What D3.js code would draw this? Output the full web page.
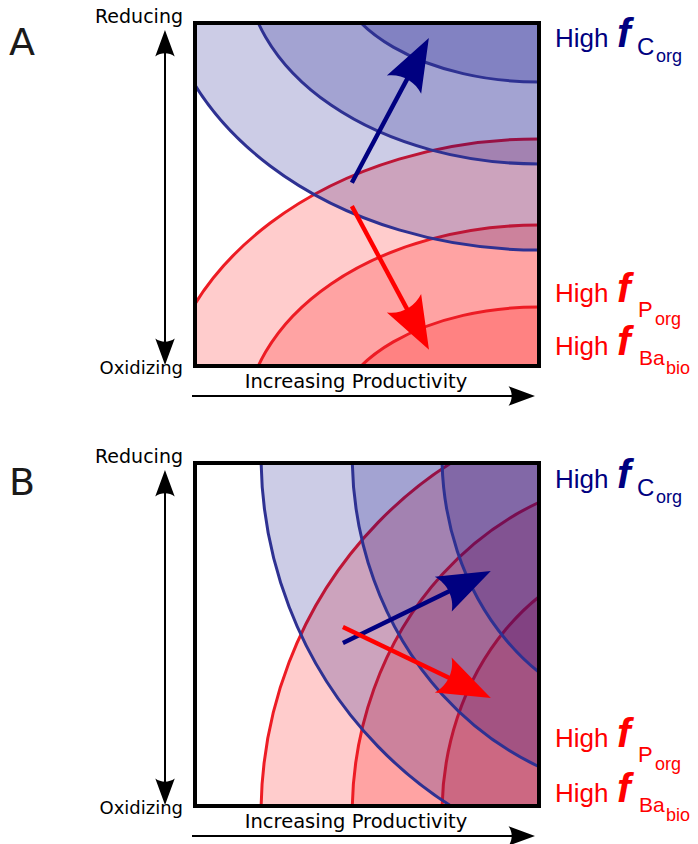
<!DOCTYPE html>
<html>
<head>
<meta charset="utf-8">
<script src="https://cdn.jsdelivr.net/npm/d3@7"></script>
<style>
  html, body { margin: 0; padding: 0; background: #fff; }
  svg { display: block; }
</style>
</head>
<body>
<svg id="chart" width="698" height="844"></svg>
<script>
// Conceptual redox / productivity space, normalised to 0..1 on both axes
// (x: productivity, y: 0 = oxidizing, 1 = reducing).

const panelNames = ["A", "B"];
const redoxLabels = ["Reducing", "Oxidizing"];
const productivityLabel = "Increasing Productivity";

// Centres and radii (outer → inner) of the f_Corg zones
const corgCentreA = [1.0, 1.175];
const corgRadiiA = [[1.105, 0.837], [0.855, 0.586], [0.599, 0.347]];
const corgCentreB = [1.352, 1.023];
const corgRadiiB = [[1.160, 1.201], [0.895, 0.988], [0.634, 0.761]];

// Centres and radii (outer → inner) of the f_Porg / f_Babio zones
const porgCentreA = [1.0, -0.175];
const porgRadiiA = [[1.105, 0.837], [0.855, 0.586], [0.599, 0.347]];
const porgCentreB = [1.352, -0.023];
const porgRadiiB = [[1.160, 1.201], [0.895, 0.988], [0.634, 0.761]];

// Trend arrows: [x0, y0, xTip, yTip]
const corgArrowA = [0.456, 0.534, 0.680, 0.956];
const porgArrowA = [0.456, 0.466, 0.680, 0.047];
const corgArrowB = [0.430, 0.475, 0.860, 0.685];
const porgArrowB = [0.430, 0.522, 0.860, 0.315];

const panels = [
  { name: panelNames[0], top: 23, corgC: corgCentreA, corgR: corgRadiiA, porgC: porgCentreA, porgR: porgRadiiA,
    corgArrow: corgArrowA, porgArrow: porgArrowA, labelShift: [0, 0, 0] },
  { name: panelNames[1], top: 463, corgC: corgCentreB, corgR: corgRadiiB, porgC: porgCentreB, porgR: porgRadiiB,
    corgArrow: corgArrowB, porgArrow: porgArrowB, labelShift: [441, 445, 447] }
];

const BLUE = "#000080", BLUE_LINE = "#2e3192";
const RED = "#ff0000", RED_LINE = "#ed1c24";

const svg = d3.select("#chart");
const defs = svg.append("defs");

// Inkscape-style "Arrow2" head, tip at origin pointing along +x, in stroke-width units
function headPath(s) {
  const p = (x, y) => [(-(x + 1) - 1.207) * s, -y * s];
  const b1 = p(8.7186, 4.0337), tip = p(-2.2073, 0.016), b2 = p(8.7186, -4.0017);
  const c1 = p(6.9731, -1.6296), c2 = p(6.9831, 1.6157);
  return `M${b1}L${tip}L${b2}C${c1} ${c2} ${b1}Z`;
}

function drawArrow(g, x0, y0, xt, yt, w, color) {
  const ang = Math.atan2(yt - y0, xt - x0);
  const s = 1.1 * w;
  const back = 6.5 * s;
  const ex = xt - back * Math.cos(ang), ey = yt - back * Math.sin(ang);
  g.append("line")
    .attr("x1", x0).attr("y1", y0).attr("x2", ex).attr("y2", ey)
    .attr("stroke", color).attr("stroke-width", w).attr("stroke-linecap", "butt");
  g.append("path")
    .attr("d", headPath(s))
    .attr("transform", `translate(${xt},${yt}) rotate(${ang * 180 / Math.PI})`)
    .attr("fill", color);
}

panels.forEach((pn, i) => {
  const left = 195, right = 539;
  const top = pn.top, bottom = pn.top + 343;
  const x = d3.scaleLinear().domain([0, 1]).range([left, right]);
  const y = d3.scaleLinear().domain([0, 1]).range([bottom, top]);
  const g = svg.append("g");

  const clipId = "clip" + pn.name;
  defs.append("clipPath").attr("id", clipId)
    .append("rect").attr("x", left).attr("y", top).attr("width", right - left).attr("height", bottom - top);

  const zones = g.append("g").attr("clip-path", `url(#${clipId})`);

  // productivity-driven zones first, redox-driven zones layered over them
  zones.selectAll("ellipse.porg").data(pn.porgR).join("ellipse")
    .attr("class", "porg")
    .attr("cx", x(pn.porgC[0])).attr("cy", y(pn.porgC[1]))
    .attr("rx", d => x(d[0]) - x(0)).attr("ry", d => y(0) - y(d[1]))
    .attr("fill", RED).attr("fill-opacity", 0.2)
    .attr("stroke", RED_LINE).attr("stroke-width", 3);

  zones.selectAll("ellipse.corg").data(pn.corgR).join("ellipse")
    .attr("class", "corg")
    .attr("cx", x(pn.corgC[0])).attr("cy", y(pn.corgC[1]))
    .attr("rx", d => x(d[0]) - x(0)).attr("ry", d => y(0) - y(d[1]))
    .attr("fill", BLUE).attr("fill-opacity", 0.2)
    .attr("stroke", BLUE_LINE).attr("stroke-width", 3);

  // trend arrows
  const ca = pn.corgArrow, pa = pn.porgArrow;
  drawArrow(g, x(ca[0]), y(ca[1]), x(ca[2]), y(ca[3]), 4.4, BLUE);
  drawArrow(g, x(pa[0]), y(pa[1]), x(pa[2]), y(pa[3]), 4.4, RED);

  // frame
  g.append("rect")
    .attr("x", left).attr("y", top).attr("width", right - left).attr("height", bottom - top)
    .attr("fill", "none").attr("stroke", "#000").attr("stroke-width", 4);

  // redox axis (double-headed)
  const ax = 165, aTop = top + 7, aBot = top + 342;
  const s2 = 1.1 * 2.2;
  g.append("line").attr("x1", ax).attr("x2", ax).attr("y1", aTop + 7 * s2).attr("y2", aBot - 7 * s2)
    .attr("stroke", "#000").attr("stroke-width", 2);
  g.append("path").attr("d", headPath(s2)).attr("transform", `translate(${ax},${aTop}) rotate(-90)`).attr("fill", "#000");
  g.append("path").attr("d", headPath(s2)).attr("transform", `translate(${ax},${aBot}) rotate(90)`).attr("fill", "#000");

  // productivity axis
  const py = top + 373;
  drawArrow(g, 192, py, 535, py, 2.2, "#000");

  const sans = "'DejaVu Sans', sans-serif";
  g.append("text").attr("x", 139).attr("y", top).attr("text-anchor", "middle")
    .attr("font-family", sans).attr("font-size", 19).attr("fill", "#000").text(redoxLabels[0]);
  g.append("text").attr("x", 183).attr("y", top + 351).attr("text-anchor", "end")
    .attr("font-family", sans).attr("font-size", 18).attr("fill", "#000").text(redoxLabels[1]);
  g.append("text").attr("x", 356).attr("y", top + 365).attr("text-anchor", "middle")
    .attr("font-family", sans).attr("font-size", 19.5).attr("fill", "#000").text(productivityLabel);

  g.append("text").attr("x", 9).attr("y", top + 32)
    .attr("font-family", sans).attr("font-size", 38).attr("fill", "#1a1a1a").text(pn.name);

  // zone labels on the right
  const arial = "'Liberation Sans', Arial, sans-serif";
  function zoneLabel(base, color, sub, subX, subDy, subSize, sub2, sub2X, sub2Dy) {
    const t = g.append("text").attr("font-family", arial).attr("fill", color);
    t.append("tspan").attr("x", 555).attr("y", base).attr("font-size", 26).text("High");
    t.append("tspan").attr("x", 617).attr("y", base).attr("font-size", 41)
      .attr("font-weight", "bold").attr("font-style", "italic").text("f");
    t.append("tspan").attr("x", subX).attr("y", base + subDy).attr("font-size", subSize).text(sub);
    t.append("tspan").attr("x", sub2X).attr("y", base + sub2Dy).attr("font-size", 18).text(sub2);
  }
  const sh = pn.labelShift;
  zoneLabel(47 + sh[0], BLUE, "C", 637, 8, 24, "org", 656, 15);
  zoneLabel(302 + sh[1], RED, "P", 638, 15, 22, "org", 655, 23);
  zoneLabel(355 + sh[2], RED, "Ba", 639, 10, 21, "bio", 666, 19);
});
</script>
</body>
</html>
